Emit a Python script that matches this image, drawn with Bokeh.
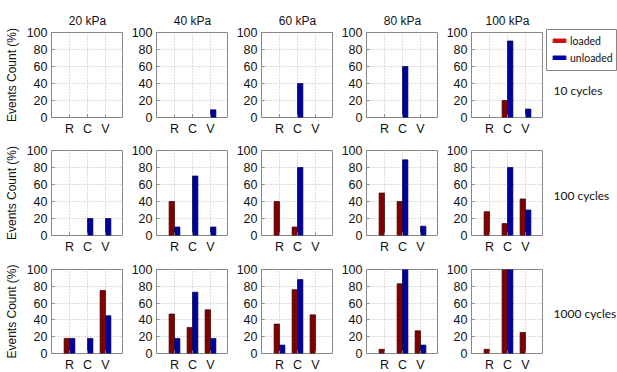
from bokeh.plotting import figure
from bokeh.models import (ColumnDataSource, FixedTicker, Range1d, Label, Legend,
                          LegendItem, BoxAnnotation)
from bokeh.layouts import row, column
from bokeh.embed import file_html
from bokeh.resources import INLINE

pressures = ["20 kPa", "40 kPa", "60 kPa", "80 kPa", "100 kPa"]
cycles = ["10 cycles", "100 cycles", "1000 cycles"]
categories = ["R", "C", "V"]

loaded_10 = [[0, 0, 0], [0, 0, 0], [0, 0, 0], [0, 0, 0], [0, 20, 0]]
unloaded_10 = [[0, 0, 0], [0, 0, 9], [0, 40, 0], [0, 60, 0], [0, 90, 10]]
loaded_100 = [[0, 0, 0], [40, 0, 0], [40, 10, 0], [50, 40, 0], [28, 14, 43]]
unloaded_100 = [[0, 20, 20], [10, 70, 10], [0, 80, 0], [0, 89, 11], [0, 80, 30]]
loaded_1000 = [[18, 0, 75], [47, 31, 52], [35, 76, 46], [5, 83, 27], [5, 100, 25]]
unloaded_1000 = [[18, 18, 45], [18, 73, 18], [10, 88, 0], [0, 100, 10], [0, 100, 0]]

rows_loaded = [loaded_10, loaded_100, loaded_1000]
rows_unloaded = [unloaded_10, unloaded_100, unloaded_1000]

RED = "#800000"
BLUE = "#00009c"
TICK_FONT = "Liberation Sans"

# layout geometry per row: (top border, frame height, bottom border)
row_geom = [(32, 85, 20), (12, 85, 22), (12, 84, 20)]


def bars(vals, offset):
    xs, tops = [], []
    for i, v in enumerate(vals):
        if v > 0:
            xs.append(i + 1 + offset)
            tops.append(v)
    return ColumnDataSource(dict(x=xs, top=tops))


def make_panel(r, c):
    top_b, fh, bot_b = row_geom[r]
    p = figure(
        frame_width=72, frame_height=fh,
        min_border_left=51 if c == 0 else 33,
        min_border_right=0, min_border_top=top_b, min_border_bottom=bot_b,
        x_range=Range1d(0, 4), y_range=Range1d(0, 100),
        toolbar_location=None, output_backend="svg",
        title=pressures[c] if r == 0 else None,
    )
    if r == 0:
        p.title.align = "center"
        p.title.text_font = TICK_FONT
        p.title.text_font_size = "12px"
        p.title.text_font_style = "normal"
        p.title.text_color = "#111111"
    p.vbar(x="x", top="top", width=0.3, source=bars(rows_loaded[r][c], -0.15),
           fill_color=RED, line_color="#3a0000", line_width=0.7)
    p.vbar(x="x", top="top", width=0.3, source=bars(rows_unloaded[r][c], 0.15),
           fill_color=BLUE, line_color="#000040", line_width=0.7)

    p.xaxis.ticker = FixedTicker(ticks=[1, 2, 3])
    p.xaxis.major_label_overrides = {1: "R", 2: "C", 3: "V"}
    p.yaxis.ticker = FixedTicker(ticks=[0, 20, 40, 60, 80, 100])
    for ax in (p.xaxis[0], p.yaxis[0]):
        ax.axis_line_color = None
        ax.major_tick_in = 3
        ax.major_tick_out = 0
        ax.minor_tick_line_color = None
        ax.major_tick_line_color = "#888888"
        ax.major_label_text_font = TICK_FONT
        ax.major_label_text_font_size = "12.5px"
        ax.major_label_text_color = "#111111"
        ax.major_label_standoff = 4
    if c == 0:
        p.yaxis.axis_label = "Events Count (%)"
        p.yaxis.axis_label_text_font = TICK_FONT
        p.yaxis.axis_label_text_font_size = "12px"
        p.yaxis.axis_label_text_font_style = "normal"
        p.yaxis.axis_label_text_color = "#111111"
        p.yaxis.axis_label_standoff = 5
    p.grid.grid_line_color = "#b8b8b8"
    p.grid.grid_line_dash = "1 2"
    p.grid.grid_line_width = 1
    p.outline_line_color = "#888888"
    p.outline_line_width = 1
    p.background_fill_color = "white"
    p.border_fill_color = "white"
    return p


TOTAL_H = sum(sum(g) for g in row_geom)
SIDE_W = 74

side = figure(
    frame_width=SIDE_W, frame_height=TOTAL_H, title=None,
    min_border_left=0, min_border_right=0, min_border_top=0, min_border_bottom=0,
    x_range=Range1d(0, SIDE_W), y_range=Range1d(0, TOTAL_H),
    toolbar_location=None, output_backend="svg",
    x_axis_location=None, y_axis_location=None,
)
side.grid.visible = False
side.outline_line_color = None

label_y = [TOTAL_H - 90, TOTAL_H - 195, TOTAL_H - 313]
for lab, ly in zip(cycles, label_y):
    side.add_layout(Label(x=10, y=ly, x_units="screen", y_units="screen",
                          text=lab, text_font="Lato", text_font_size="12px",
                          text_color="#111111", text_baseline="middle"))

# frame drawn around the legend
side.add_layout(BoxAnnotation(left=3, right=SIDE_W - 1, bottom=TOTAL_H - 70,
                              top=TOTAL_H - 29, fill_alpha=0,
                              line_color="#888888", line_width=1, line_alpha=1))

# legend-only renderers (zero-size, nothing drawn in the plot itself)
dummy = ColumnDataSource(dict(x=[-10], top=[-1], bottom=[-1]))
r1 = side.vbar(x="x", top="top", bottom="bottom", width=0, source=dummy,
               fill_color="#cc1111", line_color="#cc1111")
r2 = side.vbar(x="x", top="top", bottom="bottom", width=0, source=dummy,
               fill_color="#0000aa", line_color="#0000aa")
leg = Legend(items=[LegendItem(label="loaded", renderers=[r1]),
                    LegendItem(label="unloaded", renderers=[r2])],
             location=(4, TOTAL_H - 69))
leg.border_line_alpha = 0
leg.padding = 4
leg.spacing = 2
leg.margin = 0
leg.glyph_width = 16
leg.glyph_height = 5
leg.label_height = 15
leg.label_standoff = 3
leg.label_width = 10
leg.label_text_font = "Lato"
leg.label_text_font_size = "10.5px"
leg.label_text_color = "#111111"
leg.background_fill_alpha = 0
side.add_layout(leg)

panel_rows = []
for r in range(3):
    panels = [make_panel(r, c) for c in range(5)]
    panel_rows.append(row(*panels, spacing=0))

layout = row(column(*panel_rows, spacing=0), side, spacing=0)

open("out.html", "w").write(file_html(layout, INLINE))
